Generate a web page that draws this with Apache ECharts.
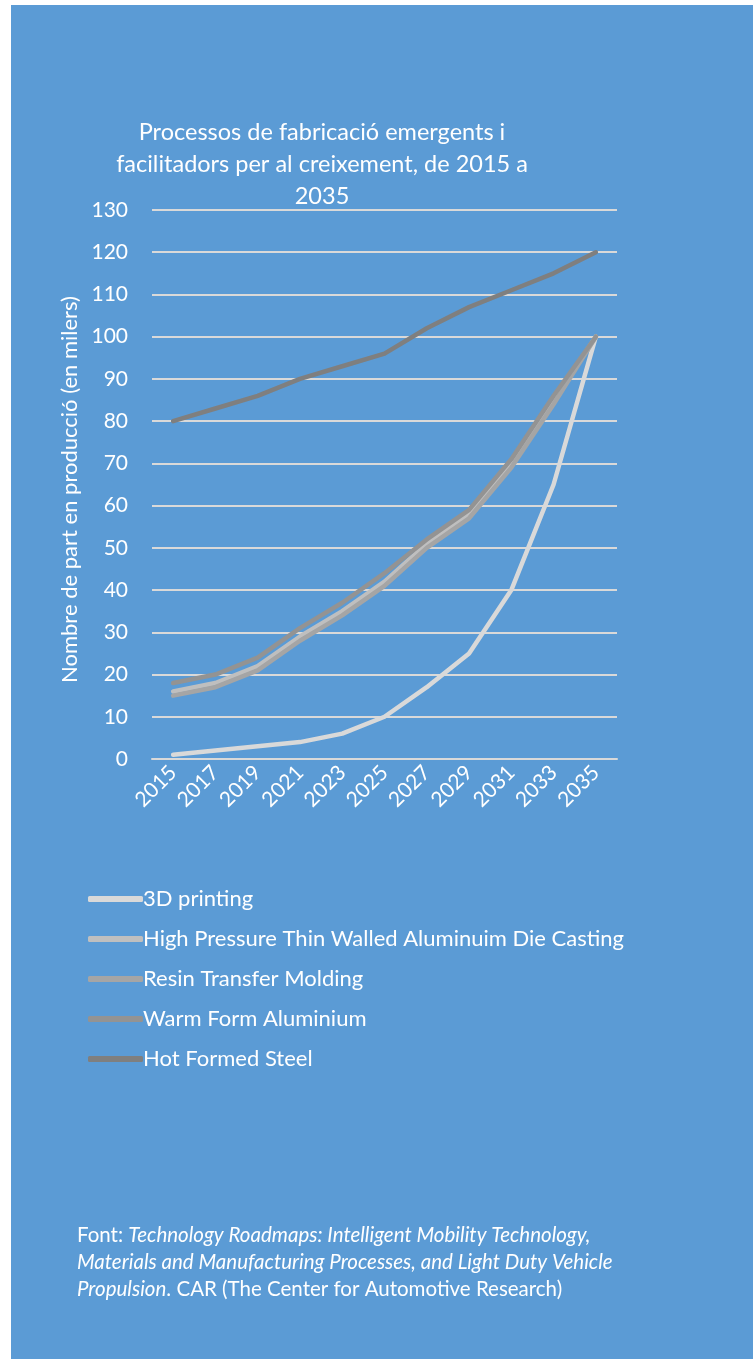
<!DOCTYPE html>
<html>
<head>
<meta charset="utf-8">
<script src="https://cdn.jsdelivr.net/npm/echarts@6/dist/echarts.min.js"></script>
<style>
html,body{margin:0;padding:0;background:#fff;}
#c{width:753px;height:1359px;}
</style>
</head>
<body>
<div id="c"></div>
<script>
const categories = ['2015','2017','2019','2021','2023','2025','2027','2029','2031','2033','2035'];
const seriesNames = ['3D printing','High Pressure Thin Walled Aluminuim Die Casting','Resin Transfer Molding','Warm Form Aluminium','Hot Formed Steel'];
const printing3D = [1, 2, 3, 4, 6, 10, 17, 25, 40, 65, 100];
const hptwDieCasting = [16, 18, 22, 29, 35, 42, 51, 58, 70, 85, 100];
const resinTransfer = [15, 17, 21, 28, 34, 41, 50, 57, 69, 84, 100];
const warmForm = [18, 20, 24, 31, 37, 44, 52, 59, 71, 86, 100];
const hotFormed = [80, 83, 86, 90, 93, 96, 102, 107, 111, 115, 120];
const seriesColors = ['#d9d9d9','#bfbfbf','#a5a5a5','#939393','#7f7f7f'];
const yTicks = {min: 0, max: 130, interval: 10};

const FONT = 'Lato';
const chart = echarts.init(document.getElementById('c'), null, {renderer: 'canvas'});
const allData = [printing3D, hptwDieCasting, resinTransfer, warmForm, hotFormed];

chart.setOption({
  backgroundColor: '#ffffff',
  animation: false,
  textStyle: {fontFamily: FONT},
  graphic: [
    {type: 'rect', z: -10, shape: {x: 11, y: 5, width: 742, height: 1354}, style: {fill: '#5b9bd5'}},
    {type: 'text', left: 77, top: 1222, z: 10,
      style: {
        text: 'Font: {i|Technology Roadmaps: Intelligent Mobility Technology,}\n{i|Materials and Manufacturing Processes, and Light Duty Vehicle}\n{i|Propulsion}. CAR (The Center for Automotive Research)',
        fill: '#ffffff', font: '20.5px ' + FONT, lineHeight: 27,
        rich: {i: {fontStyle: 'italic', fontSize: 20.5, fontFamily: FONT, fill: '#ffffff', lineHeight: 27}}
      }}
  ],
  title: {
    text: 'Processos de fabricació emergents i\nfacilitadors per al creixement, de 2015 a\n2035',
    left: 317, top: 111, textAlign: 'center',
    textStyle: {color: '#ffffff', fontSize: 23.5, fontWeight: 'normal', fontFamily: FONT, lineHeight: 32}
  },
  legend: {
    orient: 'vertical', left: 83, top: 882,
    itemWidth: 55, itemHeight: 6, itemGap: 16,
    icon: 'roundRect',
    textStyle: {color: '#ffffff', fontSize: 22, fontFamily: FONT, padding: [0,0,0,-5], lineHeight: 24},
    data: seriesNames
  },
  grid: {left: 152, right: 136, top: 210, bottom: 600, containLabel: false},
  xAxis: {
    type: 'category', data: categories, boundaryGap: true,
    axisLine: {show: true, lineStyle: {color: '#d9d9d9', width: 2}},
    axisTick: {show: false},
    axisLabel: {color: '#ffffff', fontSize: 21, rotate: 45, margin: 10, fontFamily: FONT, interval: 0}
  },
  yAxis: {
    type: 'value', min: yTicks.min, max: yTicks.max, interval: yTicks.interval,
    name: 'Nombre de part en producció (en milers)',
    nameLocation: 'middle', nameRotate: 90, nameGap: 70,
    nameTextStyle: {color: '#ffffff', fontSize: 22, fontFamily: FONT, padding: [0, 10, 0, 0]},
    axisLine: {show: false}, axisTick: {show: false},
    axisLabel: {color: '#ffffff', fontSize: 21, margin: 24, fontFamily: FONT},
    splitLine: {lineStyle: {color: '#d9d9d9', width: 2}}
  },
  series: seriesNames.map((n, i) => ({
    name: n, type: 'line', data: allData[i],
    symbol: 'none', smooth: false,
    color: seriesColors[i],
    lineStyle: {color: seriesColors[i], width: 4.5, cap: 'round', join: 'round'},
    z: 2 + i
  }))
});
</script>
</body>
</html>
